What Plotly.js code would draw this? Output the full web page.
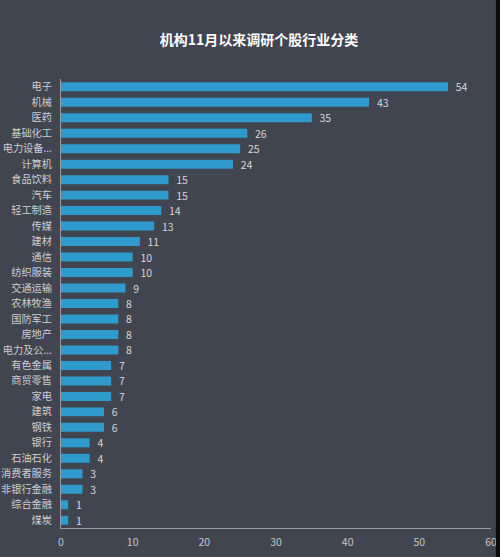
<!DOCTYPE html>
<html><head><meta charset="utf-8">
<script src="https://cdn.plot.ly/plotly-3.0.1.min.js"></script>
<style>html,body{margin:0;padding:0;background:#41454f;}#chart{width:500px;height:557px;}</style>
</head><body><div id="chart"></div>
<script>
const categories = ["电子","机械","医药","基础化工","电力设备...","计算机","食品饮料","汽车","轻工制造","传媒","建材","通信","纺织服装","交通运输","农林牧渔","国防军工","房地产","电力及公...","有色金属","商贸零售","家电","建筑","钢铁","银行","石油石化","消费者服务","非银行金融","综合金融","煤炭"];
const values = [54,43,35,26,25,24,15,15,14,13,11,10,10,9,8,8,8,8,7,7,7,6,6,4,4,3,3,1,1];
const xTicks = [0,10,20,30,40,50,60];
const titleText = "机构11月以来调研个股行业分类";

const trace = {
  type: 'bar', orientation: 'h',
  y: categories, x: values,
  text: values.map(v => '\u00a0\u00a0' + v), textposition: 'outside', cliponaxis: false, constraintext: 'none',
  textfont: {color: '#d8d8d8', size: 10.5, family: 'Noto Sans CJK SC, sans-serif'},
  marker: {color: '#2e9bcc'},
  hoverinfo: 'none'
};
const layout = {
  width: 500, height: 557,
  paper_bgcolor: '#41454f', plot_bgcolor: '#41454f',
  margin: {l: 61, r: 9, t: 79, b: 29},
  title: {text: '<b>' + titleText + '</b>', x: 0.518, xanchor: 'center', y: 0.928, yanchor: 'middle',
          font: {color: '#ffffff', size: 14, family: 'Noto Sans CJK SC, sans-serif'}},
  bargap: 0.42,
  showlegend: false,
  font: {family: 'Noto Sans CJK SC, sans-serif'},
  xaxis: {range: [0, 60], tickvals: xTicks, ticktext: xTicks.map(String), showgrid: false, zeroline: false,
          showline: true, linecolor: '#9a9ca3', linewidth: 1, ticks: 'outside', ticklen: 4, tickcolor: 'rgba(0,0,0,0)',
          tickfont: {color: '#c4c6cb', size: 10.5}, fixedrange: true},
  yaxis: {autorange: 'reversed', showgrid: false, zeroline: false, showline: true, linecolor: '#9a9ca3', linewidth: 1,
          ticks: 'outside', ticklen: 6, tickcolor: 'rgba(0,0,0,0)', tickfont: {color: '#cdcfd4', size: 10.2}, fixedrange: true},
  shapes: [{type: 'rect', xref: 'paper', yref: 'paper', x0: 1.0114, x1: 1.03, y0: -0.1, y1: 1.2,
            fillcolor: '#0b0c10', line: {width: 0}, layer: 'above'}]
};
Plotly.newPlot('chart', [trace], layout, {displayModeBar: false, staticPlot: true});
</script></body></html>
